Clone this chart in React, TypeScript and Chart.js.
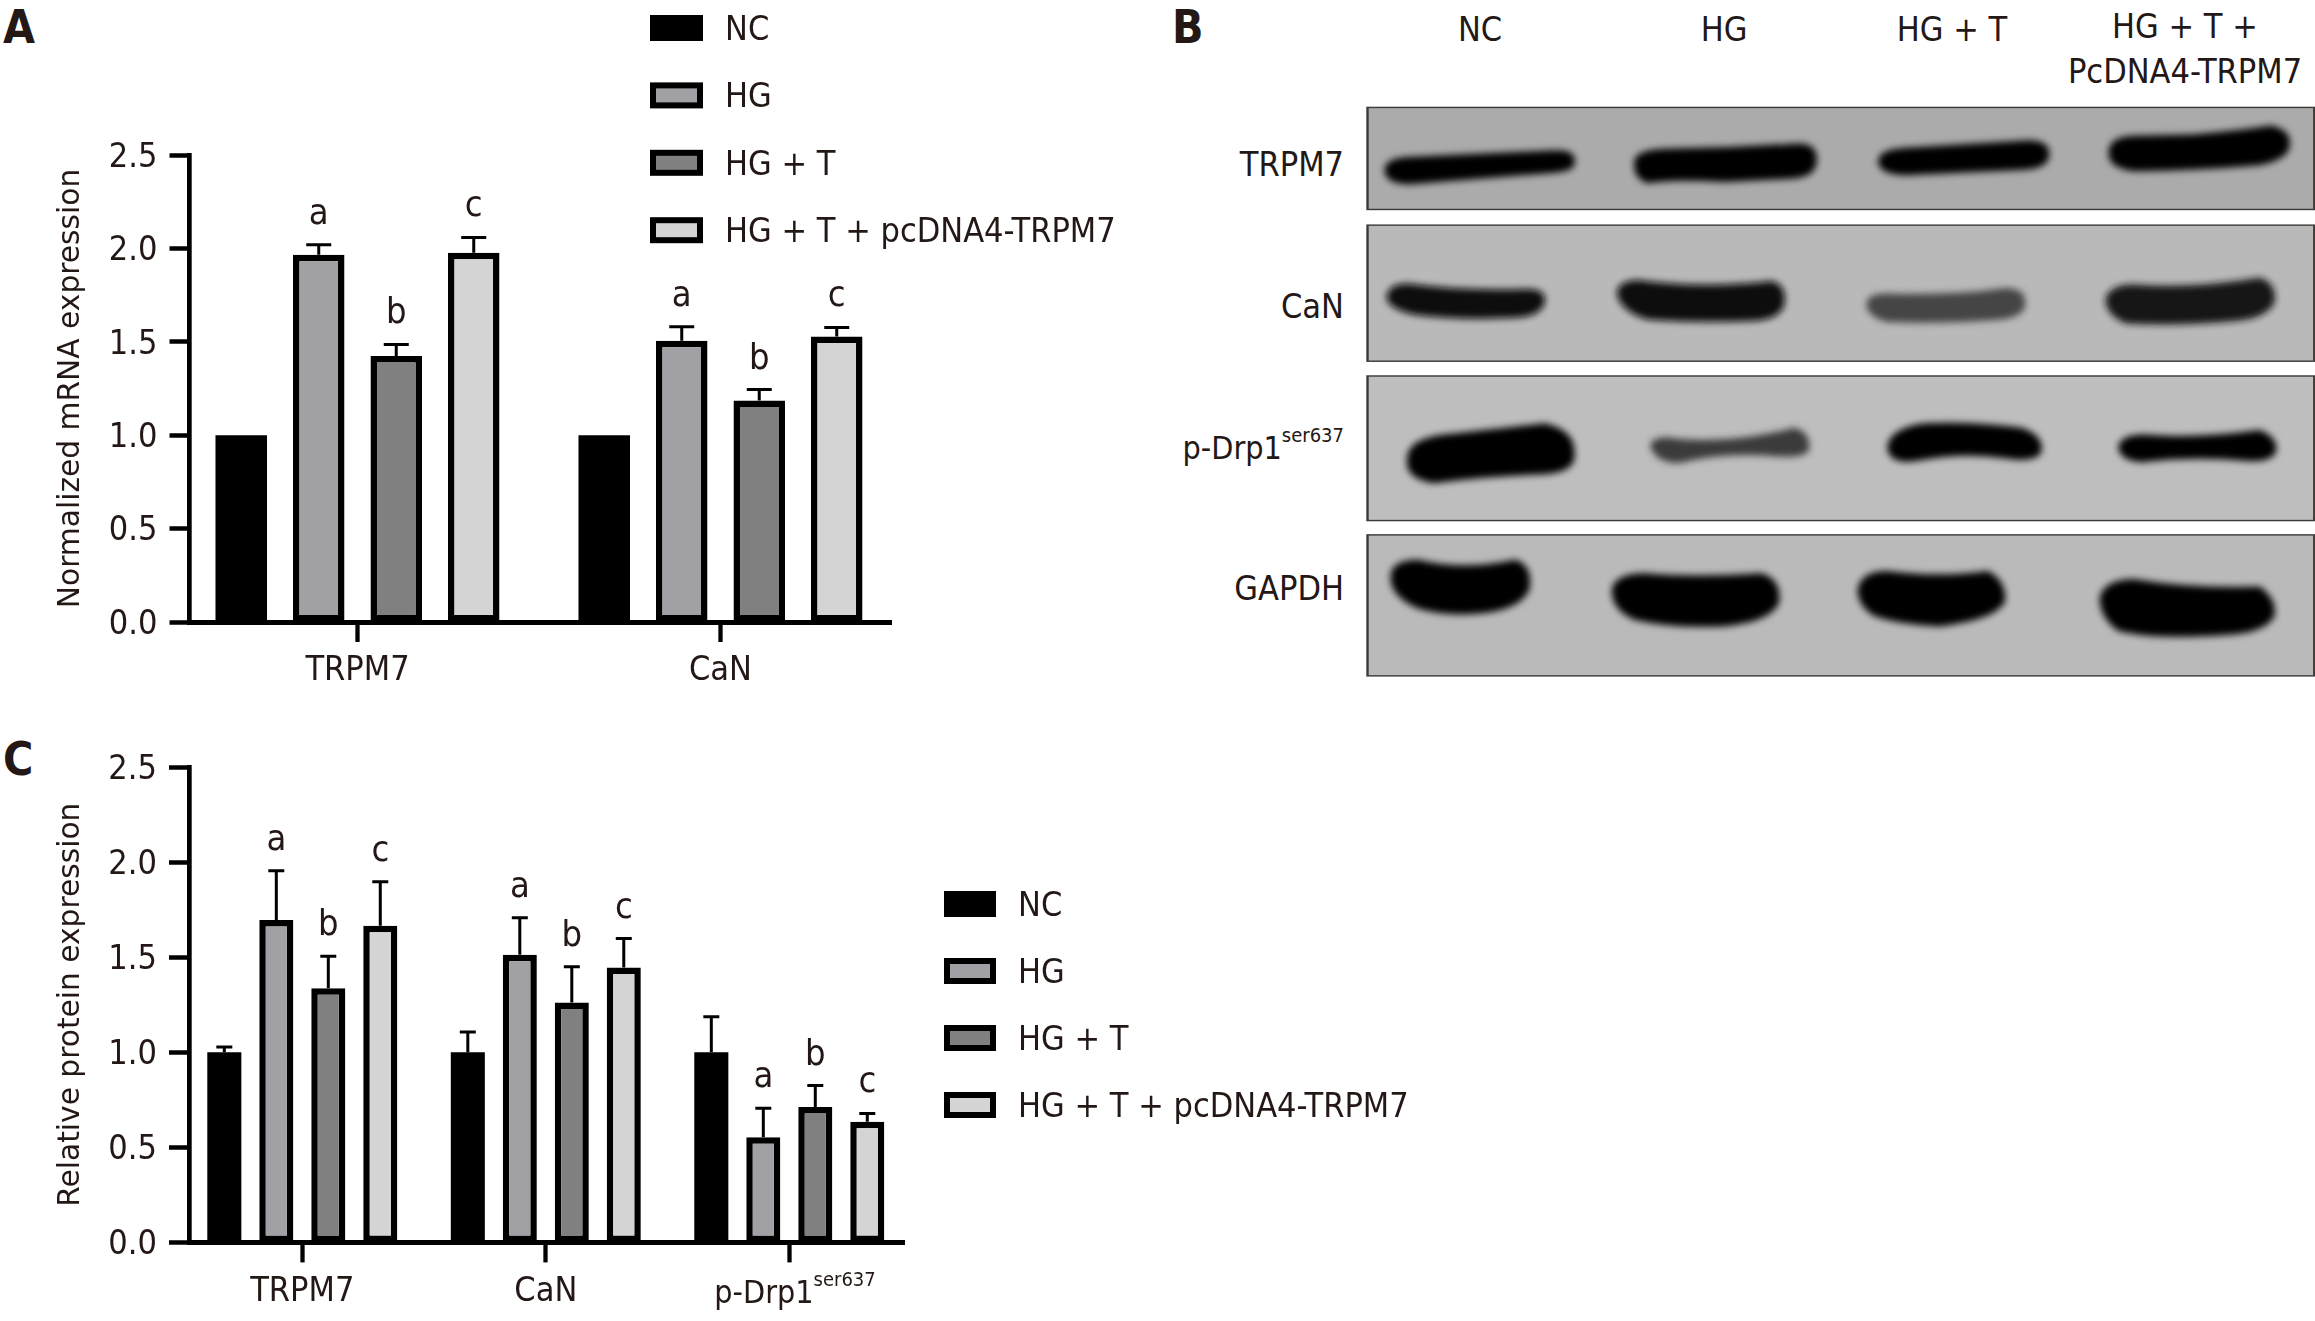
import React, { useEffect, useRef } from "react";
import { Chart, registerables } from "chart.js";

Chart.register(...registerables);

// ---------- data ----------
const seriesLabels = ["NC", "HG", "HG + T", "HG + T + pcDNA4-TRPM7"];
const seriesColors = ["#000000", "#a1a1a5", "#808080", "#d4d4d4"];
const yTicks = [0, 0.5, 1, 1.5, 2, 2.5];

const categoriesA = ["TRPM7", "CaN"];
const nc_A = [1, 1];
const hg_A = [1.966, 1.505];
const hgT_A = [1.424, 1.186];
const hgTp_A = [1.977, 1.529];
const ncErr_A = [null, null];
const hgErr_A = [2.02, 1.58];
const hgTErr_A = [1.486, 1.244];
const hgTpErr_A = [2.059, 1.577];

const categoriesC = ["TRPM7", "CaN", "p-Drp1"];
const nc_C = [1, 1, 1];
const hg_C = [1.695, 1.513, 0.553];
const hgT_C = [1.336, 1.261, 0.712];
const hgTp_C = [1.665, 1.445, 0.634];
const ncErr_C = [1.027, 1.106, 1.186];
const hgErr_C = [1.955, 1.707, 0.706];
const hgTErr_C = [1.505, 1.449, 0.825];
const hgTpErr_C = [1.897, 1.598, 0.678];

const marks = ["", "a", "b", "c"];

const FONT = '"DejaVu Sans Condensed", "DejaVu Sans", sans-serif';
const INK = "#231815";

// ---------- helpers ----------
const annotate = {
  id: "annotate",
  beforeDraw(chart: any) {
    // the reference's y tick labels sit a little lower than their ticks
    chart.scales.y.getLabelItems().forEach((it: any) => {
      if (!it._moved) {
        it.textOffset += 3;
        it._moved = true;
      }
    });
  },
  beforeDatasetsDraw(chart: any, _a: any, o: any) {
    const { ctx, scales } = chart;
    ctx.save();
    ctx.strokeStyle = "#000";
    ctx.lineWidth = o.errWidth;
    o.errors.forEach((arr: any[], ds: number) => {
      const meta = chart.getDatasetMeta(ds);
      arr.forEach((v, i) => {
        if (v == null) return;
        const x = meta.data[i].x;
        const y = scales.y.getPixelForValue(v);
        ctx.beginPath();
        ctx.moveTo(x, meta.data[i].y);
        ctx.lineTo(x, y);
        ctx.moveTo(x - o.capWidth / 2, y);
        ctx.lineTo(x + o.capWidth / 2, y);
        ctx.stroke();
      });
    });
    ctx.restore();
  },
  afterDatasetsDraw(chart: any, _a: any, o: any) {
    const { ctx, scales } = chart;
    ctx.save();
    ctx.fillStyle = INK;
    ctx.textAlign = "center";
    ctx.textBaseline = "alphabetic";
    ctx.font = `36px ${FONT}`;
    o.errors.forEach((arr: any[], ds: number) => {
      const meta = chart.getDatasetMeta(ds);
      arr.forEach((v, i) => {
        if (!marks[ds]) return;
        ctx.fillText(marks[ds], meta.data[i].x, scales.y.getPixelForValue(v) - 21);
      });
    });
    // legend
    const L = o.legend;
    chart.data.datasets.forEach((d: any, i: number) => {
      const cy = L.y + i * L.step;
      const bw = L.border;
      ctx.fillStyle = "#000";
      ctx.fillRect(L.x, cy - L.h / 2, L.w, L.h);
      ctx.fillStyle = d.backgroundColor;
      ctx.fillRect(L.x + bw, cy - L.h / 2 + bw, L.w - 2 * bw, L.h - 2 * bw);
      ctx.fillStyle = INK;
      ctx.font = `34px ${FONT}`;
      ctx.textAlign = "left";
      ctx.textBaseline = "middle";
      ctx.fillText(d.label, L.x + L.w + 22, cy + 3);
    });
    // superscripted category label
    if (o.super) {
      const s = o.super;
      const px = scales.x.getPixelForValue(s.index);
      ctx.textBaseline = "alphabetic";
      ctx.font = `32px ${FONT}`;
      ctx.fillText(s.text, px + s.dx, s.y);
      const w = ctx.measureText(s.text).width;
      ctx.font = `20px ${FONT}`;
      ctx.fillText(s.sup, px + s.dx + w, s.y - 17);
    }
    ctx.restore();
  },
};

function build(canvas: HTMLCanvasElement, c: any) {
  const data = (vals: number[]) => vals.map((y, x) => ({ x, y }));
  return new Chart(canvas, {
    type: "bar",
    data: {
      datasets: c.values.map((v: number[], i: number) => ({
        label: seriesLabels[i],
        data: data(v),
        backgroundColor: seriesColors[i],
        borderColor: "#000",
        borderWidth: i === 0 ? 0 : c.border,
        borderSkipped: false,
        categoryPercentage: c.catPct,
        barPercentage: c.barPct,
      })),
    },
    plugins: [annotate],
    options: {
      animation: false,
      responsive: false,
      devicePixelRatio: 1,
      layout: { padding: c.padding },
      plugins: {
        legend: { display: false },
        tooltip: { enabled: false },
        annotate: {
          errors: c.errors,
          capWidth: c.capWidth,
          errWidth: 3,
          legend: c.legend,
          super: c.superLabel,
        },
      } as any,
      scales: {
        x: {
          type: "linear",
          min: c.xMin,
          max: c.xMax,
          offset: false,
          afterFit(s: any) { s.height = c.xHeight; },
          afterBuildTicks(s: any) { s.ticks = c.categories.map((_: string, i: number) => ({ value: i })); },
          grid: { display: true, offset: false, drawOnChartArea: false, drawTicks: true, tickLength: 20, tickWidth: 4.3, tickColor: "#000" },
          border: { display: true, color: "#000", width: 5 },
          ticks: {
            autoSkip: false,
            maxRotation: 0,
            padding: 9,
            color: INK,
            font: { family: FONT, size: 34 },
            callback: (v: any) => (c.superLabel && v === c.superLabel.index ? "" : c.categories[v]),
          },
        },
        y: {
          min: 0,
          max: 2.5,
          afterFit(s: any) { s.width = c.yWidth; },
          afterBuildTicks(s: any) { s.ticks = yTicks.map((value) => ({ value })); },
          grid: { display: true, drawOnChartArea: false, drawTicks: true, tickLength: 20, tickWidth: 4.5, tickColor: "#000" },
          border: { display: true, color: "#000", width: 4.7 },
          ticks: {
            padding: 12,
            color: INK,
            font: { family: FONT, size: 34 },
            callback: (v: any) => Number(v).toFixed(1),
          },
          title: {
            display: true,
            text: c.yTitle,
            color: INK,
            padding: { top: c.titleTop, bottom: 0 },
            font: { family: '"DejaVu Sans", sans-serif', size: c.titleSize },
          },
        },
      },
    } as any,
  });
}

// ---------- panel B: blot (path units of the scaled group) ----------
const rows = [
  { y: 240, h: 228, label: "TRPM7", base: 176, fill: "#ababab" },
  { y: 503, h: 304, label: "CaN", base: 318, fill: "#b9b9b9" },
  { y: 840, h: 323, label: "p-Drp1", base: 459, sup: "ser637", fill: "#bebebe" },
  { y: 1195, h: 315, label: "GAPDH", base: 600, fill: "#bababa" },
];
const columns = [
  { x: 1480, lines: ["NC"], base: [41] },
  { x: 1724, lines: ["HG"], base: [41] },
  { x: 1952, lines: ["HG + T"], base: [41] },
  { x: 2185, lines: ["HG + T +", "PcDNA4-TRPM7"], base: [38, 83] },
];
const bands: [string, string][] = [
  ["M315 380 Q318 358 345 355 L545 340 Q570 340 570 360 Q570 378 540 382 L350 407 Q318 408 315 380Z", "#030303"],
  ["M650 365 Q652 340 690 337 Q780 335 870 325 Q895 325 895 358 Q893 392 860 395 L770 402 Q700 395 668 405 Q650 395 650 365Z", "#030303"],
  ["M978 360 Q980 340 1010 335 L1180 318 Q1207 320 1207 345 Q1205 370 1175 375 L1015 387 Q980 385 978 360Z", "#030303"],
  ["M1287 340 Q1290 310 1320 308 L1400 305 Q1470 295 1505 285 Q1530 295 1530 320 Q1530 350 1490 365 Q1400 378 1320 378 Q1287 370 1287 340Z", "#030303"],
  ["M318 665 Q320 640 345 638 Q420 655 505 650 Q530 650 530 672 Q525 700 495 705 Q420 712 360 700 Q325 690 318 665Z", "#080808"],
  ["M627 655 Q630 632 655 630 Q740 650 835 632 Q852 640 852 670 Q850 705 815 712 Q740 718 670 710 Q635 695 627 655Z", "#0c0c0c"],
  ["M962 680 Q965 660 990 660 Q1080 665 1150 648 Q1175 650 1175 680 Q1170 705 1140 710 Q1060 720 990 715 Q965 705 962 680Z", "#454545"],
  ["M1283 670 Q1290 640 1320 640 Q1400 650 1490 625 Q1510 635 1510 670 Q1500 705 1460 712 Q1380 725 1310 718 Q1285 700 1283 670Z", "#141414"],
  ["M345 1030 Q345 985 395 975 Q480 960 530 950 Q570 965 570 1015 Q570 1050 530 1055 Q450 1060 380 1075 Q345 1065 345 1030Z", "#000"],
  ["M672 995 Q680 975 710 985 Q790 995 865 960 Q885 970 885 1000 Q880 1020 840 1015 Q770 1005 710 1030 Q680 1030 672 995Z", "#3a3a3a"],
  ["M990 1000 Q995 960 1040 950 Q1100 945 1170 960 Q1197 975 1197 1005 Q1190 1030 1150 1020 Q1090 1005 1030 1025 Q995 1035 990 1000Z", "#000"],
  ["M1300 1000 Q1305 975 1335 975 Q1400 985 1490 965 Q1512 980 1512 1005 Q1505 1030 1470 1025 Q1400 1015 1330 1028 Q1305 1025 1300 1000Z", "#050505"],
  ["M323 1290 Q325 1255 360 1255 Q420 1280 490 1255 Q512 1265 510 1310 Q500 1355 450 1365 Q400 1375 360 1355 Q325 1330 323 1290Z", "#000"],
  ["M620 1320 Q625 1285 665 1285 Q730 1295 820 1285 Q845 1295 845 1340 Q835 1385 770 1395 Q700 1400 650 1380 Q622 1360 620 1320Z", "#000"],
  ["M950 1320 Q955 1280 990 1280 Q1060 1295 1125 1280 Q1148 1300 1148 1340 Q1135 1380 1060 1395 Q1000 1390 970 1370 Q952 1350 950 1320Z", "#000"],
  ["M1275 1340 Q1280 1300 1320 1298 Q1400 1320 1490 1315 Q1510 1340 1510 1370 Q1500 1410 1440 1415 Q1350 1425 1300 1405 Q1278 1380 1275 1340Z", "#000"],
];

function Blot() {
  const t = { fontFamily: FONT, fontSize: 34, fill: INK };
  const head = { fontFamily: FONT, fontSize: 46, fontWeight: 700, fill: INK };
  return (
    <svg width={2315} height={1321} style={{ position: "absolute", left: 0, top: 0 }}>
      <defs>
        <filter id="soft" x="-20%" y="-60%" width="140%" height="220%">
          <feMorphology operator="dilate" radius="0 5" />
          <feGaussianBlur stdDeviation="5 8" />
        </filter>
      </defs>
      <text x={3} y={43} {...head}>A</text>
      <text x={1172} y={43} {...head}>B</text>
      <text x={3} y={775} {...head}>C</text>
      <g transform="translate(1150,0) scale(0.7449,0.4476)">
        {rows.map((r) => (
          <rect key={r.label} x={292} y={r.y} width={1271} height={r.h} fill={r.fill} stroke="#3d3a38" strokeWidth={3.2} />
        ))}
        {bands.map(([d, color], i) => (
          <path key={i} d={d} fill={color} filter="url(#soft)" />
        ))}
      </g>
      {columns.map((c) =>
        c.lines.map((l, i) => (
          <text key={l} x={c.x} y={c.base[i]} textAnchor="middle" {...t}>{l}</text>
        ))
      )}
      {rows.map((r) =>
        r.sup ? (
          <text key={r.label} x={1344} y={r.base} textAnchor="end" {...t} fontSize={32}>
            {r.label}
            <tspan fontSize={20} dy={-17}>{r.sup}</tspan>
          </text>
        ) : (
          <text key={r.label} x={1344} y={r.base} textAnchor="end" {...t}>{r.label}</text>
        )
      )}
    </svg>
  );
}

export default function App() {
  const a = useRef<HTMLCanvasElement>(null);
  const c = useRef<HTMLCanvasElement>(null);
  useEffect(() => {
    const ca = build(a.current!, {
      categories: categoriesA,
      values: [nc_A, hg_A, hgT_A, hgTp_A],
      errors: [ncErr_A, hgErr_A, hgTErr_A, hgTpErr_A],
      border: 6.5,
      catPct: 0.854,
      barPct: 0.665,
      capWidth: 25,
      padding: { top: 155, right: 259, left: 0, bottom: 0 },
      xMin: (189.5 - 357.5) / 363,
      xMax: (891 - 357.5) / 363,
      xHeight: 78,
      yWidth: 189.5,
      yTitle: "Normalized mRNA expression",
      titleSize: 29.7,
      titleTop: 53,
      legend: { x: 650, y: 28, w: 53, h: 26, step: 67.4, border: 6 },
    });
    const cc = build(c.current!, {
      categories: categoriesC,
      values: [nc_C, hg_C, hgT_C, hgTp_C],
      errors: [ncErr_C, hgErr_C, hgTErr_C, hgTpErr_C],
      border: 6.5,
      catPct: 0.854,
      barPct: 0.655,
      capWidth: 16,
      padding: { top: 47, right: 596, left: 0, bottom: 0 },
      xMin: (189 - 302.3) / 243.5,
      xMax: (904 - 302.3) / 243.5,
      xHeight: 78.6,
      yWidth: 189,
      yTitle: "Relative protein expression",
      titleSize: 29.7,
      titleTop: 53,
      legend: { x: 944, y: 184, w: 52, h: 26, step: 67, border: 6 },
      superLabel: { index: 2, text: "p-Drp1", sup: "ser637", dx: -75, y: 583 },
    });
    return () => {
      ca.destroy();
      cc.destroy();
    };
  }, []);
  return (
    <div style={{ position: "absolute", left: 0, top: 0, width: 2315, height: 1321, background: "#fff", overflow: "hidden" }}>
      <Blot />
      <canvas ref={a} width={1150} height={700} style={{ position: "absolute", left: 0, top: 0 }} />
      <canvas ref={c} width={1500} height={601} style={{ position: "absolute", left: 0, top: 720 }} />
    </div>
  );
}
